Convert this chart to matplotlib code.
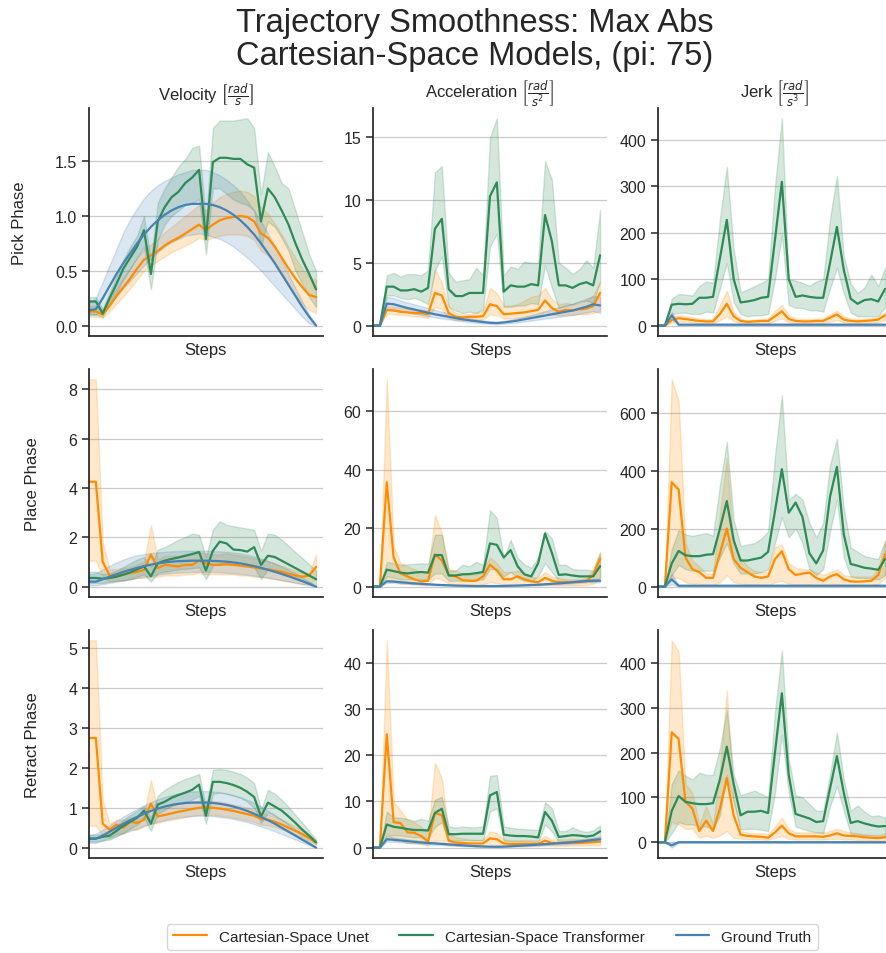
import matplotlib
matplotlib.use("Agg")
import matplotlib.pyplot as plt
import seaborn as sns
import numpy as np

# ---- per-step max abs values (mean and band) for each phase / quantity ----
# Pick phase
pick_vel_unet = [0.13,0.13,0.10,0.18,0.27,0.35,0.43,0.52,0.60,0.64,0.68,0.73,0.77,0.80,0.84,0.88,0.92,0.87,0.92,0.96,0.98,0.99,1.00,0.99,0.95,0.84,0.80,0.72,0.62,0.52,0.43,0.35,0.28,0.26]
pick_vel_unet_lo = [0.08,0.08,0.07,0.13,0.20,0.27,0.34,0.42,0.50,0.55,0.59,0.63,0.67,0.70,0.73,0.76,0.80,0.78,0.80,0.82,0.83,0.83,0.83,0.82,0.78,0.68,0.64,0.56,0.46,0.37,0.28,0.20,0.14,0.12]
pick_vel_unet_hi = [0.18,0.18,0.14,0.24,0.34,0.44,0.53,0.62,0.70,0.74,0.79,0.85,0.90,0.95,1.00,1.05,1.10,1.05,1.12,1.17,1.20,1.22,1.23,1.22,1.18,1.08,1.02,0.93,0.83,0.72,0.62,0.52,0.44,0.42]
pick_vel_tf = [0.22,0.22,0.11,0.25,0.38,0.52,0.62,0.72,0.87,0.47,0.95,1.08,1.17,1.22,1.30,1.35,1.42,0.79,1.49,1.53,1.53,1.52,1.52,1.47,1.44,0.95,1.25,1.17,1.05,0.92,0.75,0.60,0.47,0.33]
pick_vel_tf_lo = [0.10,0.10,0.08,0.20,0.30,0.42,0.52,0.62,0.72,0.33,0.78,0.92,1.00,1.05,1.10,1.12,1.15,0.65,1.25,1.25,1.20,1.15,1.12,1.10,1.05,0.72,0.95,0.90,0.80,0.68,0.50,0.38,0.26,0.17]
pick_vel_tf_hi = [0.26,0.26,0.15,0.30,0.45,0.60,0.72,0.82,1.00,0.60,1.12,1.25,1.35,1.45,1.52,1.62,1.64,0.95,1.80,1.87,1.87,1.87,1.88,1.89,1.80,1.20,1.58,1.45,1.30,1.25,1.05,0.85,0.65,0.50]
pick_vel_gt = [0.14,0.15,0.25,0.36,0.47,0.57,0.66,0.75,0.83,0.90,0.96,1.01,1.05,1.08,1.10,1.11,1.11,1.11,1.10,1.08,1.05,1.01,0.96,0.90,0.83,0.75,0.66,0.57,0.47,0.37,0.27,0.17,0.08,0.00]
pick_vel_gt_lo = [0.10,0.10,0.14,0.20,0.27,0.34,0.41,0.48,0.55,0.61,0.67,0.72,0.76,0.79,0.82,0.83,0.84,0.83,0.81,0.79,0.76,0.72,0.67,0.62,0.56,0.50,0.43,0.36,0.29,0.22,0.15,0.08,0.02,0.00]
pick_vel_gt_hi = [0.20,0.25,0.40,0.55,0.70,0.85,0.97,1.07,1.16,1.23,1.28,1.32,1.35,1.38,1.40,1.42,1.42,1.42,1.40,1.37,1.33,1.28,1.22,1.14,1.05,0.95,0.84,0.72,0.60,0.47,0.34,0.22,0.10,0.00]

pick_acc_unet = [0,0,1.25,1.2,1.1,1.05,1.0,1.0,0.9,2.6,2.4,1.0,0.7,0.65,0.7,0.7,0.75,1.7,1.55,0.9,0.95,1.0,1.05,1.15,1.25,2.0,1.4,1.1,1.25,1.2,1.3,1.35,1.55,2.6]
pick_acc_unet_lo = [0,0,0.95,0.9,0.85,0.8,0.75,0.7,0.6,1.5,1.3,0.6,0.45,0.4,0.45,0.45,0.5,0.9,0.8,0.55,0.6,0.65,0.7,0.75,0.8,1.1,0.9,0.8,0.85,0.85,0.9,0.9,1.0,1.2]
pick_acc_unet_hi = [0,0,1.5,1.5,1.4,1.35,1.3,1.3,1.2,4.5,3.4,1.5,1.0,0.9,0.9,1.0,1.2,3.0,2.6,1.6,1.6,1.7,2.0,2.3,2.4,3.0,2.1,1.7,1.8,1.7,1.8,2.0,2.4,3.5]
pick_acc_tf = [0,0,3.1,3.1,2.8,2.8,2.9,2.7,3.0,7.7,8.5,2.9,2.35,2.35,2.6,2.6,2.6,10.3,11.4,2.7,3.2,3.1,3.1,3.3,3.2,8.8,6.7,3.2,3.2,3.0,3.3,3.45,3.2,5.6]
pick_acc_tf_lo = [0,0,2.4,2.4,2.2,2.1,2.2,2.0,1.7,4.4,5.5,1.5,1.2,1.0,1.1,1.0,1.3,6.3,7.3,1.5,1.5,1.6,1.6,1.8,1.7,4.8,3.0,1.4,1.6,1.7,1.9,2.0,1.8,3.5]
pick_acc_tf_hi = [0,0,4.0,4.2,3.9,4.1,4.1,4.0,4.4,12.2,12.7,4.2,3.5,3.6,3.7,4.6,4.0,15.0,16.5,4.0,4.7,4.5,5.1,5.0,5.0,13.1,11.6,5.0,4.6,4.1,4.5,5.2,4.6,9.2]
pick_acc_gt = [0,0,1.75,1.7,1.55,1.4,1.28,1.15,1.02,0.9,0.8,0.7,0.6,0.5,0.42,0.35,0.28,0.22,0.2,0.25,0.32,0.4,0.5,0.6,0.7,0.8,0.9,1.0,1.1,1.2,1.35,1.5,1.7,1.6]
pick_acc_gt_lo = [0,0,1.3,1.25,1.15,1.05,0.95,0.85,0.75,0.65,0.57,0.5,0.42,0.35,0.28,0.22,0.18,0.14,0.12,0.15,0.2,0.25,0.32,0.4,0.48,0.56,0.62,0.7,0.78,0.85,0.95,1.05,1.15,1.0]
pick_acc_gt_hi = [0,0,2.3,2.2,2.0,1.85,1.7,1.55,1.4,1.25,1.1,0.95,0.82,0.7,0.6,0.5,0.42,0.35,0.32,0.38,0.48,0.6,0.72,0.85,1.0,1.15,1.3,1.45,1.6,1.75,1.95,2.15,2.35,2.3]

pick_jerk_unet = [0,0,12,16,14,12,10,9,9,25,47,20,10,8,9,10,10,20,31,14,10,9,9,10,10,17,24,13,10,9,10,11,13,22]
pick_jerk_unet_lo = [0,0,6,8,8,7,5,5,5,12,20,10,5,4,4,5,5,10,16,7,5,5,5,5,5,8,12,7,5,5,5,6,7,12]
pick_jerk_unet_hi = [0,0,20,22,20,18,15,14,14,45,75,30,15,12,13,14,15,32,45,22,15,14,14,15,15,25,32,20,15,14,15,16,18,30]
pick_jerk_tf = [0,0,45,47,46,47,60,60,62,145,228,100,50,52,55,60,62,185,310,100,62,65,62,60,60,135,213,120,58,47,55,57,52,79]
pick_jerk_tf_lo = [0,0,25,27,28,25,25,30,28,80,135,50,25,20,22,22,25,100,195,45,38,38,33,33,30,80,125,70,28,20,20,20,20,40]
pick_jerk_tf_hi = [0,0,58,68,67,65,85,95,92,230,342,165,72,78,85,92,100,300,447,100,97,92,86,95,100,230,323,150,90,70,82,110,85,125]
pick_jerk_gt = [0,0,22,2,2,2,2,2,2,2,2,2,2,2,2,2,2,2,2,2,2,2,2,2,2,2,2,2,2,2,2,2,2,2]
pick_jerk_gt_lo = [0,0,14,1,1,1,1,1,1,1,1,1,1,1,1,1,1,1,1,1,1,1,1,1,1,1,1,1,1,1,1,1,1,1]
pick_jerk_gt_hi = [0,0,30,3,3,3,3,3,3,3,3,3,3,3,3,3,3,3,3,3,3,3,3,3,3,3,3,3,3,3,3,3,3,3]

# Place phase
place_vel_unet = [4.25,4.25,1.0,0.45,0.48,0.5,0.55,0.6,0.68,1.3,0.75,0.88,0.85,0.82,0.88,0.88,1.05,0.95,0.88,0.88,0.9,0.88,0.85,0.82,0.78,0.73,0.7,0.65,0.6,0.52,0.45,0.4,0.45,0.8]
place_vel_unet_lo = [1.05,1.05,0.4,0.2,0.25,0.25,0.3,0.35,0.35,0.4,0.4,0.45,0.45,0.45,0.5,0.5,0.55,0.5,0.5,0.5,0.5,0.5,0.45,0.45,0.4,0.4,0.35,0.3,0.25,0.2,0.15,0.1,0.1,0.3]
place_vel_unet_hi = [8.4,8.4,1.8,0.7,0.7,0.75,0.8,0.9,1.0,2.5,1.1,1.25,1.25,1.25,1.3,1.35,1.4,1.35,1.3,1.3,1.35,1.3,1.25,1.2,1.15,1.1,1.05,0.95,0.85,0.75,0.65,0.55,0.55,1.3]
place_vel_tf = [0.35,0.35,0.32,0.35,0.4,0.48,0.58,0.7,0.82,0.42,0.95,1.05,1.12,1.18,1.25,1.32,1.4,0.65,1.45,1.82,1.75,1.5,1.48,1.42,1.6,0.88,1.25,1.2,1.05,0.9,0.75,0.6,0.45,0.3]
place_vel_tf_lo = [0.15,0.15,0.15,0.2,0.22,0.25,0.3,0.4,0.5,0.2,0.55,0.6,0.65,0.7,0.72,0.75,0.78,0.3,0.85,0.95,0.95,0.9,0.85,0.8,0.78,0.3,0.7,0.65,0.55,0.45,0.35,0.25,0.15,0.1]
place_vel_tf_hi = [0.6,0.6,0.5,0.55,0.65,0.8,0.95,1.1,1.2,0.8,1.5,1.6,1.75,1.9,2.0,2.15,2.1,1.2,2.3,2.65,2.5,2.45,2.4,2.35,2.3,1.45,2.15,2.1,1.9,1.65,1.4,1.15,0.9,0.65]
place_vel_gt = [0.2,0.2,0.3,0.4,0.5,0.6,0.68,0.76,0.83,0.89,0.94,0.98,1.01,1.03,1.04,1.05,1.05,1.05,1.04,1.03,1.01,0.98,0.94,0.89,0.83,0.76,0.68,0.6,0.51,0.42,0.32,0.22,0.11,0.0]
place_vel_gt_lo = [0.05,0.05,0.1,0.15,0.2,0.25,0.3,0.35,0.4,0.44,0.48,0.52,0.55,0.57,0.58,0.59,0.6,0.6,0.59,0.58,0.56,0.54,0.51,0.48,0.44,0.4,0.36,0.31,0.26,0.21,0.16,0.1,0.05,0.0]
place_vel_gt_hi = [0.5,0.55,0.7,0.85,0.98,1.1,1.2,1.27,1.32,1.36,1.39,1.41,1.43,1.44,1.45,1.45,1.45,1.45,1.44,1.43,1.41,1.38,1.34,1.29,1.22,1.14,1.04,0.93,0.81,0.68,0.54,0.38,0.2,0.02]

place_acc_unet = [0,0,35.7,10,4.5,3.5,2.5,1.8,2.0,11,9,4,3.5,2.2,2.0,2.0,3.5,7.5,5.5,2.5,2.5,3.5,2.5,1.8,1.5,3,2,1.5,1.5,1.5,1.6,1.8,4,9.5]
place_acc_unet_lo = [0,0,3,2,1,1,0.8,0.6,0.6,3,2.5,1,0.8,0.6,0.5,0.5,0.8,1.5,1.2,0.7,0.7,0.8,0.6,0.5,0.4,0.6,0.5,0.4,0.4,0.4,0.4,0.5,1.0,2.5]
place_acc_unet_hi = [0,0,71,14,8,7,6,5,5,24.5,18.5,6,5.5,4.5,4,4,6,10,8,5,5,5.5,4.5,3.5,3,5,3.5,3,2.5,2.5,2.5,3,6,12]
place_acc_tf = [0,0,5.8,5.3,4.8,4.5,4.8,5.0,4.8,10.8,10.8,3.8,3.8,4.2,4.3,4.6,5.0,14.8,14.3,10.0,12.5,7.0,4.2,3.5,8.0,18.2,11.5,4.0,4.2,3.8,3.5,3.5,3.5,7.0]
place_acc_tf_lo = [0,0,3.5,3.0,2.5,2.5,2.5,2.5,2.5,4.5,4.5,2.0,2.0,2.0,2.2,2.2,2.5,6.0,6.0,3.5,5.0,3.0,2.0,1.8,3.5,8.0,5.0,2.0,2.0,1.8,1.8,1.8,1.8,3.0]
place_acc_tf_hi = [0,0,8.5,8.0,7.5,7.6,7.8,8.0,7.8,17.8,17.8,5.5,5.5,7.5,7.0,8.5,7.5,26.2,23.5,9.5,16,10,7.5,6.5,10,19,16.5,7.5,7.5,6.0,5.8,5.8,5.5,11.5]
place_acc_gt = [0,0,1.8,1.7,1.5,1.3,1.1,0.95,0.8,0.65,0.55,0.45,0.35,0.3,0.25,0.2,0.2,0.2,0.2,0.25,0.3,0.35,0.45,0.55,0.65,0.8,0.95,1.1,1.3,1.5,1.7,1.9,2.0,2.0]
place_acc_gt_lo = [0,0,1.3,1.25,1.1,0.95,0.8,0.7,0.58,0.47,0.4,0.32,0.25,0.2,0.17,0.14,0.14,0.14,0.14,0.17,0.2,0.25,0.32,0.4,0.47,0.58,0.7,0.8,0.95,1.1,1.25,1.4,1.5,1.5]
place_acc_gt_hi = [0,0,2.4,2.2,2.0,1.75,1.5,1.3,1.1,0.9,0.75,0.62,0.5,0.42,0.35,0.28,0.28,0.28,0.28,0.35,0.42,0.5,0.62,0.75,0.9,1.1,1.3,1.5,1.75,2.0,2.25,2.5,2.6,2.6]

place_jerk_unet = [0,0,360,335,100,60,50,30,30,115,200,95,65,50,35,30,35,95,122,60,40,45,48,30,20,35,43,25,18,17,18,20,40,112]
place_jerk_unet_lo = [0,0,30,30,15,10,10,5,5,15,40,15,10,8,8,5,5,15,20,10,8,8,8,5,5,5,8,5,5,5,5,5,8,30]
place_jerk_unet_hi = [0,0,715,640,150,90,70,45,45,250,445,140,100,70,55,50,50,135,145,80,65,60,60,50,40,50,60,40,35,35,35,35,60,155]
place_jerk_tf = [0,0,80,123,108,105,105,110,112,200,295,160,90,90,95,100,120,260,405,255,290,240,115,80,125,310,413,180,78,72,65,62,58,95]
place_jerk_tf_lo = [0,0,40,75,60,55,55,55,55,100,150,80,45,45,45,50,60,150,240,170,200,150,60,40,60,190,300,100,35,30,30,28,25,40]
place_jerk_tf_hi = [0,0,130,195,180,175,180,185,175,350,500,230,140,145,150,165,190,450,660,300,320,300,220,170,220,420,510,270,135,120,105,100,95,160]
place_jerk_gt = [0,0,25,3,3,3,3,3,3,3,3,3,3,3,3,3,3,3,3,3,3,3,3,3,3,3,3,3,3,3,3,3,3,3]
place_jerk_gt_lo = [0,0,8,1,1,1,1,1,1,1,1,1,1,1,1,1,1,1,1,1,1,1,1,1,1,1,1,1,1,1,1,1,1,1]
place_jerk_gt_hi = [0,0,45,5,5,5,5,5,5,5,5,5,5,5,5,5,5,5,5,5,5,5,5,5,5,5,5,5,5,5,5,5,5,5]

# Retract phase
retract_vel_unet = [2.75,2.75,0.6,0.45,0.58,0.5,0.65,0.62,0.7,1.1,0.78,0.82,0.86,0.9,0.93,0.97,1.0,1.01,1.0,0.98,0.95,0.92,0.88,0.84,0.8,0.72,0.7,0.65,0.58,0.5,0.42,0.34,0.24,0.13]
retract_vel_unet_lo = [0.55,0.55,0.3,0.25,0.35,0.35,0.45,0.45,0.55,0.6,0.62,0.67,0.7,0.73,0.76,0.8,0.82,0.82,0.82,0.8,0.78,0.75,0.72,0.68,0.64,0.58,0.56,0.52,0.46,0.39,0.32,0.25,0.16,0.07]
retract_vel_unet_hi = [5.2,5.2,1.2,0.6,0.7,0.7,0.75,0.8,0.85,1.7,0.95,1.0,1.05,1.1,1.12,1.15,1.18,1.18,1.17,1.15,1.12,1.08,1.04,1.0,0.95,0.87,0.83,0.77,0.7,0.62,0.53,0.43,0.32,0.2]
retract_vel_tf = [0.23,0.23,0.27,0.3,0.42,0.55,0.65,0.75,0.93,0.6,1.08,1.15,1.25,1.32,1.38,1.45,1.58,0.8,1.65,1.65,1.62,1.57,1.5,1.4,1.27,0.78,1.13,1.03,0.93,0.78,0.62,0.45,0.3,0.13]
retract_vel_tf_lo = [0.15,0.15,0.18,0.2,0.28,0.38,0.48,0.58,0.75,0.42,0.85,0.95,1.05,1.1,1.15,1.2,1.3,0.6,1.35,1.38,1.35,1.3,1.25,1.15,1.0,0.62,0.88,0.8,0.7,0.58,0.45,0.32,0.2,0.08]
retract_vel_tf_hi = [0.32,0.32,0.35,0.42,0.55,0.7,0.82,0.92,1.05,0.75,1.3,1.45,1.55,1.65,1.72,1.78,1.85,1.0,1.95,1.97,1.95,1.9,1.85,1.75,1.62,0.95,1.45,1.35,1.2,1.02,0.82,0.62,0.42,0.2]
retract_vel_gt = [0.22,0.22,0.3,0.4,0.5,0.6,0.69,0.77,0.85,0.92,0.98,1.03,1.07,1.1,1.12,1.13,1.13,1.13,1.12,1.1,1.07,1.03,0.98,0.92,0.85,0.77,0.69,0.6,0.5,0.4,0.3,0.2,0.1,0.0]
retract_vel_gt_lo = [0.12,0.12,0.18,0.24,0.3,0.36,0.42,0.48,0.54,0.6,0.65,0.69,0.73,0.76,0.78,0.79,0.8,0.8,0.79,0.77,0.75,0.72,0.68,0.64,0.59,0.53,0.47,0.41,0.34,0.27,0.2,0.13,0.06,0.0]
retract_vel_gt_hi = [0.32,0.35,0.45,0.56,0.67,0.78,0.88,0.97,1.06,1.14,1.21,1.27,1.32,1.36,1.39,1.41,1.42,1.42,1.41,1.39,1.36,1.32,1.27,1.2,1.12,1.03,0.93,0.82,0.7,0.57,0.43,0.29,0.15,0.0]

retract_acc_unet = [0,0,24.5,5.5,5.3,3.3,3.2,2.5,1.3,7.5,7.0,1.5,1.1,1.0,0.9,0.9,0.9,2.0,1.8,0.9,0.8,0.8,0.8,0.8,0.8,1.5,1.0,1.0,1.0,1.1,1.0,1.1,1.2,1.3]
retract_acc_unet_lo = [0,0,3,1.5,1.5,1,1,0.8,0.5,1.5,1.5,0.5,0.4,0.4,0.35,0.35,0.35,0.6,0.6,0.35,0.35,0.35,0.35,0.35,0.35,0.6,0.4,0.4,0.4,0.45,0.45,0.45,0.5,0.5]
retract_acc_unet_hi = [0,0,44.8,10,8,6,5.5,4.5,3,18.3,15,3,2.2,2,1.8,1.7,1.7,3.5,3.2,1.8,1.6,1.6,1.6,1.6,1.6,2.5,1.8,1.8,1.8,1.9,1.8,1.9,2,2.2]
retract_acc_tf = [0,0,5.0,4.5,4.3,4.0,3.8,3.8,3.7,7.5,8.4,2.9,2.9,3.0,3.0,3.0,3.0,11.3,12.0,2.8,2.6,2.5,2.5,2.4,2.2,7.7,5.8,2.3,2.5,2.7,2.6,2.4,2.6,3.5]
retract_acc_tf_lo = [0,0,2.5,2.7,2.6,2.4,2.2,2.2,2.1,4.5,5.5,1.5,1.5,1.6,1.6,1.6,1.6,7.8,8.5,1.5,1.4,1.3,1.3,1.2,1.2,5.0,3.5,1.2,1.4,1.5,1.4,1.3,1.4,2.0]
retract_acc_tf_hi = [0,0,7.8,6.5,6.5,6.2,5.8,6.2,5.8,10.3,11.0,4.6,4.3,4.6,4.4,4.4,4.6,15.5,15.7,4.6,4.3,4.1,4.0,3.9,3.8,9.8,8.5,3.6,3.6,4.4,3.7,3.4,3.7,4.8]
retract_acc_gt = [0,0,1.8,1.7,1.55,1.4,1.25,1.12,1.0,0.9,0.8,0.7,0.6,0.5,0.4,0.32,0.25,0.2,0.18,0.22,0.3,0.38,0.47,0.56,0.65,0.75,0.85,0.95,1.05,1.15,1.3,1.45,1.65,1.8]
retract_acc_gt_lo = [0,0,1.3,1.25,1.15,1.0,0.9,0.8,0.7,0.62,0.55,0.48,0.4,0.33,0.26,0.2,0.15,0.12,0.1,0.13,0.18,0.24,0.3,0.37,0.44,0.5,0.58,0.65,0.72,0.8,0.9,1.0,1.15,1.25]
retract_acc_gt_hi = [0,0,2.4,2.25,2.05,1.85,1.65,1.5,1.35,1.2,1.07,0.94,0.8,0.68,0.56,0.45,0.36,0.3,0.27,0.32,0.42,0.52,0.64,0.76,0.88,1.0,1.12,1.25,1.38,1.5,1.7,1.9,2.15,2.35]

retract_jerk_unet = [0,0,245,230,90,75,25,48,25,75,143,60,17,14,13,12,10,22,37,20,13,13,13,13,12,15,20,15,14,13,11,10,9,11]
retract_jerk_unet_lo = [0,0,45,40,30,30,10,15,10,15,25,10,8,7,6,6,5,10,15,8,6,6,6,6,6,7,8,6,6,5,5,4,4,5]
retract_jerk_unet_hi = [0,0,450,425,130,110,40,80,40,160,338,100,25,22,20,20,18,35,55,30,22,22,22,22,22,25,30,25,22,20,18,17,16,20]
retract_jerk_tf = [0,0,70,103,90,87,85,85,87,140,213,130,60,68,68,70,65,200,332,150,63,58,53,45,47,120,192,110,43,47,42,38,35,36]
retract_jerk_tf_lo = [0,0,20,45,40,40,35,35,30,60,150,90,28,30,30,28,25,110,240,110,35,30,25,22,20,80,125,70,18,18,15,15,12,14]
retract_jerk_tf_hi = [0,0,130,160,148,140,155,150,150,210,295,150,105,110,115,108,100,290,428,185,105,100,85,70,70,150,245,140,70,82,68,58,60,55]
retract_jerk_gt = [0,0,-7,0,0,0,0,0,0,0,0,0,0,0,0,0,0,0,0,0,0,0,0,0,0,0,0,0,0,0,0,0,0,0]
retract_jerk_gt_lo = [0,0,-12,-1,-1,-1,-1,-1,-1,-1,-1,-1,-1,-1,-1,-1,-1,-1,-1,-1,-1,-1,-1,-1,-1,-1,-1,-1,-1,-1,-1,-1,-1,-1]
retract_jerk_gt_hi = [0,0,-2,1,1,1,1,1,1,1,1,1,1,1,1,1,1,1,1,1,1,1,1,1,1,1,1,1,1,1,1,1,1,1]

phases = ["Pick Phase", "Place Phase", "Retract Phase"]
quantities = [r"Velocity $\left[\frac{rad}{s}\right]$",
              r"Acceleration $\left[\frac{rad}{s^2}\right]$",
              r"Jerk $\left[\frac{rad}{s^3}\right]$"]
models = ["Cartesian-Space Unet", "Cartesian-Space Transformer", "Ground Truth"]
colors = ["darkorange", "seagreen", "steelblue"]

grid_data = [
    [(pick_vel_unet, pick_vel_unet_lo, pick_vel_unet_hi, pick_vel_tf, pick_vel_tf_lo, pick_vel_tf_hi, pick_vel_gt, pick_vel_gt_lo, pick_vel_gt_hi),
     (pick_acc_unet, pick_acc_unet_lo, pick_acc_unet_hi, pick_acc_tf, pick_acc_tf_lo, pick_acc_tf_hi, pick_acc_gt, pick_acc_gt_lo, pick_acc_gt_hi),
     (pick_jerk_unet, pick_jerk_unet_lo, pick_jerk_unet_hi, pick_jerk_tf, pick_jerk_tf_lo, pick_jerk_tf_hi, pick_jerk_gt, pick_jerk_gt_lo, pick_jerk_gt_hi)],
    [(place_vel_unet, place_vel_unet_lo, place_vel_unet_hi, place_vel_tf, place_vel_tf_lo, place_vel_tf_hi, place_vel_gt, place_vel_gt_lo, place_vel_gt_hi),
     (place_acc_unet, place_acc_unet_lo, place_acc_unet_hi, place_acc_tf, place_acc_tf_lo, place_acc_tf_hi, place_acc_gt, place_acc_gt_lo, place_acc_gt_hi),
     (place_jerk_unet, place_jerk_unet_lo, place_jerk_unet_hi, place_jerk_tf, place_jerk_tf_lo, place_jerk_tf_hi, place_jerk_gt, place_jerk_gt_lo, place_jerk_gt_hi)],
    [(retract_vel_unet, retract_vel_unet_lo, retract_vel_unet_hi, retract_vel_tf, retract_vel_tf_lo, retract_vel_tf_hi, retract_vel_gt, retract_vel_gt_lo, retract_vel_gt_hi),
     (retract_acc_unet, retract_acc_unet_lo, retract_acc_unet_hi, retract_acc_tf, retract_acc_tf_lo, retract_acc_tf_hi, retract_acc_gt, retract_acc_gt_lo, retract_acc_gt_hi),
     (retract_jerk_unet, retract_jerk_unet_lo, retract_jerk_unet_hi, retract_jerk_tf, retract_jerk_tf_lo, retract_jerk_tf_hi, retract_jerk_gt, retract_jerk_gt_lo, retract_jerk_gt_hi)],
]

sns.set_style("ticks")
plt.rcParams["font.family"] = ["Liberation Sans", "DejaVu Sans"]
plt.rcParams["axes.edgecolor"] = "0.15"
plt.rcParams["axes.linewidth"] = 1.25

fig = plt.figure(figsize=(8.87, 9.54), dpi=100)

col_left = [0.1003, 0.4205, 0.7418]
row_bottom = [0.6468, 0.3732, 0.0996]
ax_w, ax_h = 0.2638, 0.239

handles = []
for r in range(3):
    for c in range(3):
        ax = fig.add_axes([col_left[c], row_bottom[r], ax_w, ax_h])
        vals = grid_data[r][c]
        for m in range(3):
            mean = np.array(vals[3 * m])
            lo = np.array(vals[3 * m + 1])
            hi = np.array(vals[3 * m + 2])
            x = np.arange(len(mean))
            ax.fill_between(x, lo, hi, color=colors[m], alpha=0.2, linewidth=1)
            ln, = ax.plot(x, mean, color=colors[m], lw=1.6, label=models[m])
            if r == 0 and c == 0:
                handles.append(ln)
        ax.set_xlim(0, len(mean))
        ax.set_xticks([])
        ax.set_xlabel("Steps", fontsize=12, labelpad=4, color="0.15")
        ax.grid(axis="y", color="0.75", lw=0.9, alpha=0.8)
        ax.set_axisbelow(True)
        ax.tick_params(axis="y", labelsize=11.5, length=5, width=1.1, colors="0.15")
        sns.despine(ax=ax)
        if r == 0:
            ax.set_title(quantities[c], fontsize=12, pad=6, color="0.15")
        if c == 0:
            ax.set_ylabel(phases[r], fontsize=12, labelpad=20, color="0.15")

fig.text(0.5355, 0.958, "Trajectory Smoothness: Max Abs\nCartesian-Space Models, (pi: 75)",
         ha="center", va="center", fontsize=23.5, color="0.15", linespacing=1.05)

fig.legend(handles=handles, labels=models, loc="center", bbox_to_anchor=(0.555, 0.017),
           ncol=3, fontsize=11, frameon=True, handlelength=2.2, columnspacing=2.0)

fig.savefig("out.png", dpi=100)
